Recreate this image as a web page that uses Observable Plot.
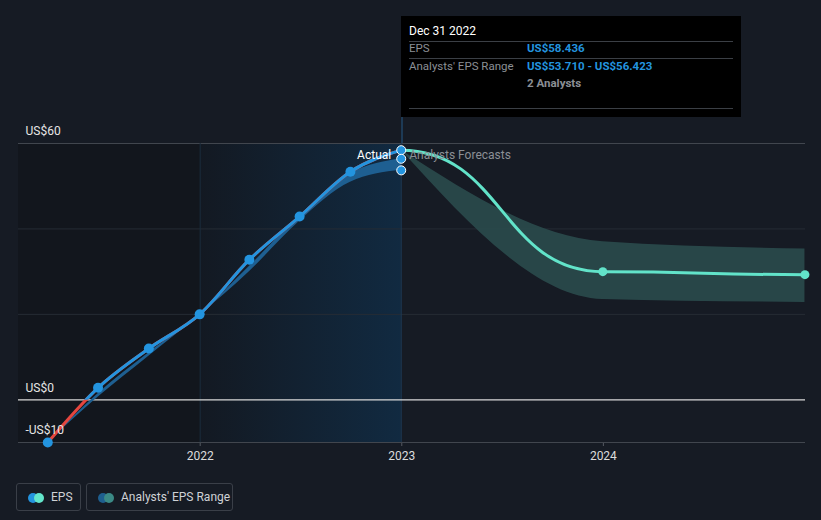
<!DOCTYPE html>
<html><head><meta charset="utf-8">
<script src="https://cdn.jsdelivr.net/npm/d3@7"></script>
<script src="https://cdn.jsdelivr.net/npm/@observablehq/plot@0.6"></script>
<style>
body{margin:0;background:#161b24;font-family:Roboto,sans-serif;width:821px;height:520px;overflow:hidden;position:relative}
#chart{position:absolute;left:0;top:0}
.tip{position:absolute;left:401px;top:16px;width:340px;height:101px;background:#000;font-size:11.5px}
.tip .r{position:absolute;white-space:nowrap}
.tip .hl{position:absolute;left:8px;width:324px;height:1px;background:#3b3f45}
.conn{position:absolute;left:401px;top:117px;width:2px;height:26px;background:#1d3a55}
.leg{position:absolute;top:483px;height:28px;border:1px solid #3a3f48;border-radius:3px;box-sizing:border-box;color:#cfd2d6;font-size:12px}
.leg .c{position:absolute;top:9px;width:10px;height:10px;border-radius:50%}
.leg .t{position:absolute;top:6px}
</style></head>
<body>
<div id="chart"></div>
<div class="conn"></div>
<div class="tip">
  <div class="r" style="left:8px;top:8px;color:#fff;font-size:12px">Dec 31 2022</div>
  <div class="hl" style="top:25px"></div>
  <div class="r" style="left:8px;top:25px;color:#8b8f95">EPS</div>
  <div class="r" style="left:126px;top:25px;color:#2394df;font-weight:bold">US$58.436</div>
  <div class="hl" style="top:42px"></div>
  <div class="r" style="left:8px;top:43px;color:#8b8f95">Analysts' EPS Range</div>
  <div class="r" style="left:126px;top:43px;color:#2394df;font-weight:bold">US$53.710 - US$56.423</div>
  <div class="r" style="left:126px;top:60px;color:#8b8f95;font-weight:bold">2 Analysts</div>
  <div class="hl" style="top:92px"></div>
</div>
<div class="leg" style="left:16px;width:65px">
  <div class="c" style="left:11px;background:#2394df"></div>
  <div class="c" style="left:17px;background:#63e6cb"></div>
  <div class="t" style="left:34px">EPS</div>
</div>
<div class="leg" style="left:86px;width:147px">
  <div class="c" style="left:11px;background:#1e5f8f"></div>
  <div class="c" style="left:17px;background:#3b8a86"></div>
  <div class="t" style="left:34px">Analysts' EPS Range</div>
</div>
<script>
// ---- data ----
const actualDates = ["2021-03-31","2021-06-30","2021-09-30","2021-12-31","2022-03-31","2022-06-30","2022-09-30","2022-12-31"];
const actualEps   = [-10.0, 2.8, 12.0, 20.0, 32.8, 42.9, 53.4, 58.436];
const pastLow     = [-10.0, 0.6, 10.2, 19.8, 30.0, 41.8, 50.9, 53.710];
const pastHigh    = [-10.0, 1.4, 11.0, 20.0, 31.2, 43.0, 52.9, 56.423];
const fcDates = ["2022-12-31","2023-12-31","2024-12-31"];
const fcEps   = [58.436, 30.0, 29.3];
const fcLow   = [58.436, 23.5, 22.8];
const fcHigh  = [58.436, 37.0, 35.3];
const markerValues = [58.436, 56.423, 53.710];
const xTicks = ["2022-01-01","2023-01-01","2024-01-01"];
const gridMajor = [60, -10];
const gridMinor = [20, 40];
const yLabelTicks = [60, 0, -10];
const domainX = ["2021-02-06","2025-01-01"];
const pastStart = "2022-01-01";
const pastEnd = "2022-12-31";

const parse = d3.utcParse("%Y-%m-%d");
const actual = actualDates.map((d,i)=>({date:parse(d), eps:actualEps[i], low:pastLow[i], high:pastHigh[i]}));
const fc = fcDates.map((d,i)=>({date:parse(d), eps:fcEps[i], low:fcLow[i], high:fcHigh[i]}));
const fmt = v => (v < 0 ? "-US$" + (-v) : "US$" + v);

const plot = Plot.plot({
  width: 821, height: 470,
  marginLeft: 18, marginRight: 16, marginTop: 143, marginBottom: 28,
  style: {background: "transparent", color: "#dcdcdc", fontFamily: "Roboto, sans-serif", fontSize: "12px"},
  x: {type: "utc", domain: domainX.map(parse), ticks: xTicks.map(parse), tickFormat: d3.utcFormat("%Y"), tickSize: 4, label: null},
  y: {domain: [-10, 60], axis: null},
  marks: [
    Plot.rect([{x1: parse(domainX[0]), x2: parse(pastStart)}], {x1: "x1", x2: "x2", fill: "#12161d"}),
    Plot.rect([{x1: parse(pastStart), x2: parse(pastEnd)}], {x1: "x1", x2: "x2", fill: "url(#hlgrad)"}),
    Plot.ruleY(gridMinor, {stroke: "#262c35"}),
    Plot.ruleY(gridMajor, {stroke: "#41464e"}),
    Plot.ruleX([parse(pastStart)], {stroke: "#1b2c3c"}),
    Plot.ruleX([parse(pastEnd)], {stroke: "#1d3a55"}),
    Plot.ruleY([0], {stroke: "#d8d8d8", strokeWidth: 1.2}),
    Plot.areaY(actual, {x: "date", y1: "low", y2: "high", fill: "#1e5f91", curve: "monotone-x"}),
    Plot.areaY(fc, {x: "date", y1: "low", y2: "high", fill: "#2a4b4d", fillOpacity: 0.9, curve: "monotone-x"}),
    Plot.line(actual, {x: "date", y: "eps", stroke: "#e5463f", strokeWidth: 3, curve: "monotone-x"}),
    Plot.line(actual, {x: "date", y: "eps", stroke: "#2394df", strokeWidth: 3, curve: "monotone-x"}),
    Plot.line(fc, {x: "date", y: "eps", stroke: "#62e3c9", strokeWidth: 3, curve: "bump-x"}),
    Plot.dot(actual.slice(0, -1), {x: "date", y: "eps", r: 5, fill: "#2394df"}),
    Plot.dot(fc.slice(1), {x: "date", y: "eps", r: 4.5, fill: "#62e3c9"}),
    Plot.dot(markerValues, {x: () => parse(pastEnd), y: d => d, r: 4.5, fill: "#2394df", stroke: "#fff", strokeWidth: 1}),
    Plot.text(["Actual"], {x: () => parse(pastEnd), frameAnchor: "top", dy: 7, dx: -10, textAnchor: "end", fill: "#ffffff", fontSize: 12}),
    Plot.text(["Analysts Forecasts"], {x: () => parse(pastEnd), frameAnchor: "top", dy: 7, dx: 8, textAnchor: "start", fill: "#8b8f95", fontSize: 12}),
    Plot.text(yLabelTicks, {y: d => d, text: fmt, frameAnchor: "left", dx: 7, dy: -12, textAnchor: "start", fill: "#e6e6e6", fontSize: 12})
  ]
});

const svg = d3.select(plot);
const defs = svg.insert("defs", ":first-child");
const g = defs.append("linearGradient").attr("id", "hlgrad").attr("x1", 0).attr("x2", 1).attr("y1", 0).attr("y2", 0);
g.append("stop").attr("offset", 0).attr("stop-color", "#131922");
g.append("stop").attr("offset", 1).attr("stop-color", "#112a41");
const y0 = plot.scale("y").apply(0);
defs.append("clipPath").attr("id", "posclip").append("rect").attr("x", 0).attr("y", 0).attr("width", 821).attr("height", y0);
svg.selectAll('g[aria-label="line"]').filter(function(){ return this.getAttribute("stroke") === "#2394df"; }).attr("clip-path", "url(#posclip)");
svg.selectAll('g[aria-label="x-axis tick"]').attr("stroke", "#555a62");
document.getElementById("chart").appendChild(plot);
</script>
</body></html>
